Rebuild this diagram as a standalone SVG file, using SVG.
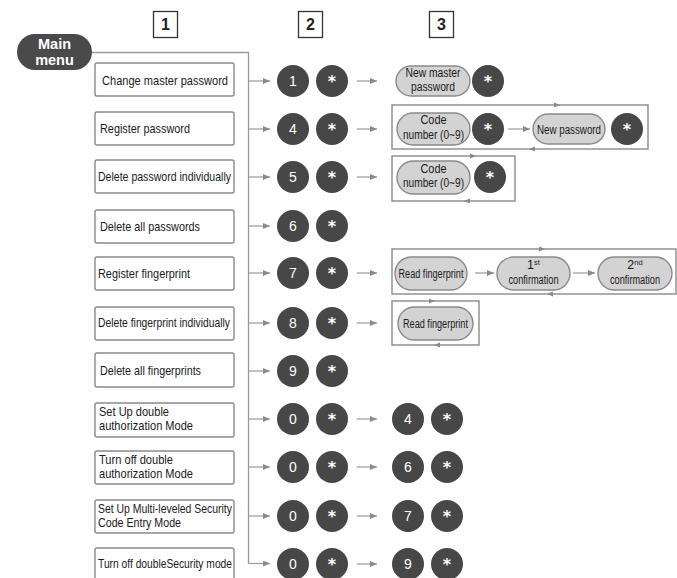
<svg xmlns="http://www.w3.org/2000/svg" xmlns:xlink="http://www.w3.org/1999/xlink" width="677" height="578" viewBox="0 0 677 578">
<style>
.bg{fill:#fff}
.hdr rect{fill:#fff;stroke:#333;stroke-width:1.3}
.hdr text{font-family:"Liberation Sans",Arial,sans-serif;font-weight:bold;font-size:16px;fill:#222;text-anchor:middle}
.mm rect{fill:#4a4a4a}
.mm text{font-family:"Liberation Sans",Arial,sans-serif;font-weight:bold;font-size:14.5px;fill:#fff;text-anchor:middle}
.item rect{fill:#fff;stroke:#8a8a8a;stroke-width:1.4}
.item text{font-family:"Liberation Sans",Arial,sans-serif;font-size:13.5px;fill:#1a1a1a}
.key circle{fill:#474747}
.key text{font-family:"Liberation Sans",Arial,sans-serif;font-size:14px;fill:#fff;text-anchor:middle}
.key text.ast{font-family:"DejaVu Sans",sans-serif;font-weight:bold;font-size:16px}
.pill rect{fill:#d3d3d3;stroke:#8a8a8a;stroke-width:1.4}
.pill text{font-family:"Liberation Sans",Arial,sans-serif;font-size:12.5px;fill:#1a1a1a;text-anchor:middle}
.pill tspan.sup{font-size:7.5px}
.ln{fill:none;stroke:#999;stroke-width:1.3}
.ar{fill:none;stroke:#999;stroke-width:1.2;marker-end:url(#ah)}
.frame{fill:none;stroke:#8a8a8a;stroke-width:1.4}
.tri{fill:#8a8a8a}
</style>
<defs>
<marker id="ah" markerUnits="userSpaceOnUse" markerWidth="7" markerHeight="6" refX="7" refY="3" orient="auto"><path d="M0,0 L7,3 L0,6 z" fill="#8a8a8a"/></marker>
<path id="tr" d="M-3,-2.5 L3,0 L-3,2.5 z"/>
<path id="tl" d="M3,-2.5 L-3,0 L3,2.5 z"/>
</defs>
<rect class="bg" x="0" y="0" width="677" height="578"/>

<g id="headers" class="hdr">
<g id="h1"><rect x="153.5" y="11.5" width="24" height="26"/><text x="165.5" y="30">1</text></g>
<g id="h2"><rect x="298.5" y="11.5" width="24" height="26"/><text x="310.5" y="30">2</text></g>
<g id="h3"><rect x="429.5" y="11.5" width="24" height="26"/><text x="441.5" y="30">3</text></g>
</g>

<g id="main-menu" class="mm"><rect x="17" y="34" width="75" height="36" rx="18"/><text x="54.5" y="49">Main</text><text x="54.5" y="65">menu</text></g>

<g id="connectors">
<path class="ln" d="M92,52.5 H248.5 V563.5"/>
<path class="ar" d="M248.5,81 H270"/>
<path class="ar" d="M248.5,129 H270"/>
<path class="ar" d="M248.5,177 H270"/>
<path class="ar" d="M248.5,226 H270"/>
<path class="ar" d="M248.5,273 H270"/>
<path class="ar" d="M248.5,323 H270"/>
<path class="ar" d="M248.5,371 H270"/>
<path class="ar" d="M248.5,419 H270"/>
<path class="ar" d="M248.5,467 H270"/>
<path class="ar" d="M248.5,516 H270"/>
<path class="ar" d="M248.5,563.5 H270"/>
<path class="ar" d="M357,81 H377"/>
<path class="ar" d="M357,129 H377"/>
<path class="ar" d="M357,177 H377"/>
<path class="ar" d="M357,273 H377"/>
<path class="ar" d="M357,323 H377"/>
<path class="ar" d="M357,419 H377"/>
<path class="ar" d="M357,467 H377"/>
<path class="ar" d="M357,516 H377"/>
<path class="ar" d="M357,564 H377"/>
<path class="ar" d="M508,129 H530"/>
<path class="ar" d="M475,273 H494"/>
<path class="ar" d="M573,273 H595"/>
</g>

<g id="loops">
<rect class="frame" x="392" y="105" width="256" height="44"/>
<use class="tri" href="#tr" x="557" y="105"/><use class="tri" href="#tl" x="532" y="149"/>
<rect class="frame" x="392" y="156" width="123" height="45"/>
<use class="tri" href="#tr" x="473" y="156"/><use class="tri" href="#tl" x="467" y="201"/>
<rect class="frame" x="392" y="249" width="284" height="45"/>
<use class="tri" href="#tr" x="542" y="249"/><use class="tri" href="#tl" x="550" y="294"/>
<rect class="frame" x="392" y="301" width="87" height="44"/>
<use class="tri" href="#tr" x="432" y="301"/><use class="tri" href="#tl" x="437" y="345"/>
</g>

<g id="menu-items" class="item">
<g id="item-1"><rect x="95" y="63" width="139" height="33" rx="2"/><text x="102" y="85" textLength="126" lengthAdjust="spacingAndGlyphs">Change master password</text></g>
<g id="item-2"><rect x="95" y="112" width="139" height="33" rx="2"/><text x="100" y="133" textLength="90" lengthAdjust="spacingAndGlyphs">Register password</text></g>
<g id="item-3"><rect x="95" y="160" width="139" height="33" rx="2"/><text x="98" y="181" textLength="133" lengthAdjust="spacingAndGlyphs">Delete password individually</text></g>
<g id="item-4"><rect x="95" y="210" width="139" height="33" rx="2"/><text x="100" y="231" textLength="100" lengthAdjust="spacingAndGlyphs">Delete all passwords</text></g>
<g id="item-5"><rect x="95" y="257" width="139" height="33" rx="2"/><text x="98" y="278" textLength="92" lengthAdjust="spacingAndGlyphs">Register fingerprint</text></g>
<g id="item-6"><rect x="95" y="307" width="139" height="33" rx="2"/><text x="98" y="327" textLength="132" lengthAdjust="spacingAndGlyphs">Delete fingerprint individually</text></g>
<g id="item-7"><rect x="95" y="353" width="139" height="34" rx="2"/><text x="100" y="375" textLength="101" lengthAdjust="spacingAndGlyphs">Delete all fingerprints</text></g>
<g id="item-8"><rect x="95" y="403" width="139" height="34" rx="2"/><text x="99" y="416" textLength="70" lengthAdjust="spacingAndGlyphs">Set Up double</text><text x="99" y="430" textLength="94" lengthAdjust="spacingAndGlyphs">authorization Mode</text></g>
<g id="item-9"><rect x="95" y="451" width="139" height="33" rx="2"/><text x="99" y="464" textLength="74" lengthAdjust="spacingAndGlyphs">Turn off double</text><text x="99" y="478" textLength="94" lengthAdjust="spacingAndGlyphs">authorization Mode</text></g>
<g id="item-10"><rect x="95" y="500" width="139" height="33" rx="2"/><text x="98" y="513" textLength="134" lengthAdjust="spacingAndGlyphs">Set Up Multi-leveled Security</text><text x="98" y="527" textLength="83" lengthAdjust="spacingAndGlyphs">Code Entry Mode</text></g>
<g id="item-11"><rect x="95" y="548" width="139" height="34" rx="2"/><text x="98" y="568" textLength="134" lengthAdjust="spacingAndGlyphs">Turn off doubleSecurity mode</text></g>
</g>

<g id="keys" class="key">
<g id="k1a"><circle cx="293" cy="81" r="16"/><text x="293" y="86">1</text></g>
<g id="k1b"><circle cx="332" cy="81" r="16"/><text class="ast" x="332" y="87">*</text></g>
<g id="k2a"><circle cx="293" cy="129" r="16"/><text x="293" y="134">4</text></g>
<g id="k2b"><circle cx="332" cy="129" r="16"/><text class="ast" x="332" y="135">*</text></g>
<g id="k3a"><circle cx="293" cy="177" r="16"/><text x="293" y="182">5</text></g>
<g id="k3b"><circle cx="332" cy="177" r="16"/><text class="ast" x="332" y="183">*</text></g>
<g id="k4a"><circle cx="293" cy="226" r="16"/><text x="293" y="231">6</text></g>
<g id="k4b"><circle cx="332" cy="226" r="16"/><text class="ast" x="332" y="232">*</text></g>
<g id="k5a"><circle cx="293" cy="273" r="16"/><text x="293" y="278">7</text></g>
<g id="k5b"><circle cx="332" cy="273" r="16"/><text class="ast" x="332" y="279">*</text></g>
<g id="k6a"><circle cx="293" cy="323" r="16"/><text x="293" y="328">8</text></g>
<g id="k6b"><circle cx="332" cy="323" r="16"/><text class="ast" x="332" y="329">*</text></g>
<g id="k7a"><circle cx="293" cy="371" r="16"/><text x="293" y="376">9</text></g>
<g id="k7b"><circle cx="332" cy="371" r="16"/><text class="ast" x="332" y="377">*</text></g>
<g id="k8a"><circle cx="293" cy="419" r="16"/><text x="293" y="424">0</text></g>
<g id="k8b"><circle cx="332" cy="419" r="16"/><text class="ast" x="332" y="425">*</text></g>
<g id="k8c"><circle cx="408" cy="419" r="16"/><text x="408" y="424">4</text></g>
<g id="k8d"><circle cx="447" cy="419" r="16"/><text class="ast" x="447" y="425">*</text></g>
<g id="k9a"><circle cx="293" cy="467" r="16"/><text x="293" y="472">0</text></g>
<g id="k9b"><circle cx="332" cy="467" r="16"/><text class="ast" x="332" y="473">*</text></g>
<g id="k9c"><circle cx="408" cy="467" r="16"/><text x="408" y="472">6</text></g>
<g id="k9d"><circle cx="447" cy="467" r="16"/><text class="ast" x="447" y="473">*</text></g>
<g id="k10a"><circle cx="293" cy="516" r="16"/><text x="293" y="521">0</text></g>
<g id="k10b"><circle cx="332" cy="516" r="16"/><text class="ast" x="332" y="522">*</text></g>
<g id="k10c"><circle cx="408" cy="516" r="16"/><text x="408" y="521">7</text></g>
<g id="k10d"><circle cx="447" cy="516" r="16"/><text class="ast" x="447" y="522">*</text></g>
<g id="k11a"><circle cx="293" cy="564" r="16"/><text x="293" y="569">0</text></g>
<g id="k11b"><circle cx="332" cy="564" r="16"/><text class="ast" x="332" y="570">*</text></g>
<g id="k11c"><circle cx="408" cy="564" r="16"/><text x="408" y="569">9</text></g>
<g id="k11d"><circle cx="447" cy="564" r="16"/><text class="ast" x="447" y="570">*</text></g>
<g id="s1"><circle cx="488" cy="81" r="16"/><text class="ast" x="488" y="87">*</text></g>
<g id="s2a"><circle cx="488" cy="129" r="16"/><text class="ast" x="488" y="135">*</text></g>
<g id="s2b"><circle cx="627" cy="129" r="16"/><text class="ast" x="627" y="135">*</text></g>
<g id="s3"><circle cx="490" cy="177" r="16"/><text class="ast" x="490" y="183">*</text></g>
</g>

<g id="pills" class="pill">
<g id="p-new-master"><rect x="396" y="66" width="74" height="30" rx="15"/><text x="433" y="77" textLength="55" lengthAdjust="spacingAndGlyphs">New master</text><text x="433" y="90.5" textLength="44" lengthAdjust="spacingAndGlyphs">password</text></g>
<g id="p-code-1"><rect x="397" y="113" width="73" height="32" rx="16"/><text x="433.5" y="124" textLength="26" lengthAdjust="spacingAndGlyphs">Code</text><text x="433.5" y="138.5" textLength="61" lengthAdjust="spacingAndGlyphs">number (0~9)</text></g>
<g id="p-new-password"><rect x="533" y="114" width="72" height="30" rx="15"/><text x="569" y="133.5" textLength="64" lengthAdjust="spacingAndGlyphs">New password</text></g>
<g id="p-code-2"><rect x="397" y="161" width="73" height="33" rx="16.5"/><text x="433.5" y="172.5" textLength="26" lengthAdjust="spacingAndGlyphs">Code</text><text x="433.5" y="187" textLength="61" lengthAdjust="spacingAndGlyphs">number (0~9)</text></g>
<g id="p-read-1"><rect x="395" y="257" width="72" height="33" rx="16.5"/><text x="431" y="277.5" textLength="65" lengthAdjust="spacingAndGlyphs">Read fingerprint</text></g>
<g id="p-conf-1"><rect x="497" y="257" width="73" height="33" rx="16.5"/><text x="533.5" y="269">1<tspan class="sup" dy="-4">st</tspan></text><text x="533.5" y="284" textLength="50" lengthAdjust="spacingAndGlyphs">confirmation</text></g>
<g id="p-conf-2"><rect x="598" y="257" width="74" height="33" rx="16.5"/><text x="635" y="269">2<tspan class="sup" dy="-4">nd</tspan></text><text x="635" y="284" textLength="50" lengthAdjust="spacingAndGlyphs">confirmation</text></g>
<g id="p-read-2"><rect x="398" y="307" width="75" height="33" rx="16.5"/><text x="435.5" y="327.5" textLength="65" lengthAdjust="spacingAndGlyphs">Read fingerprint</text></g>
</g>
</svg>
